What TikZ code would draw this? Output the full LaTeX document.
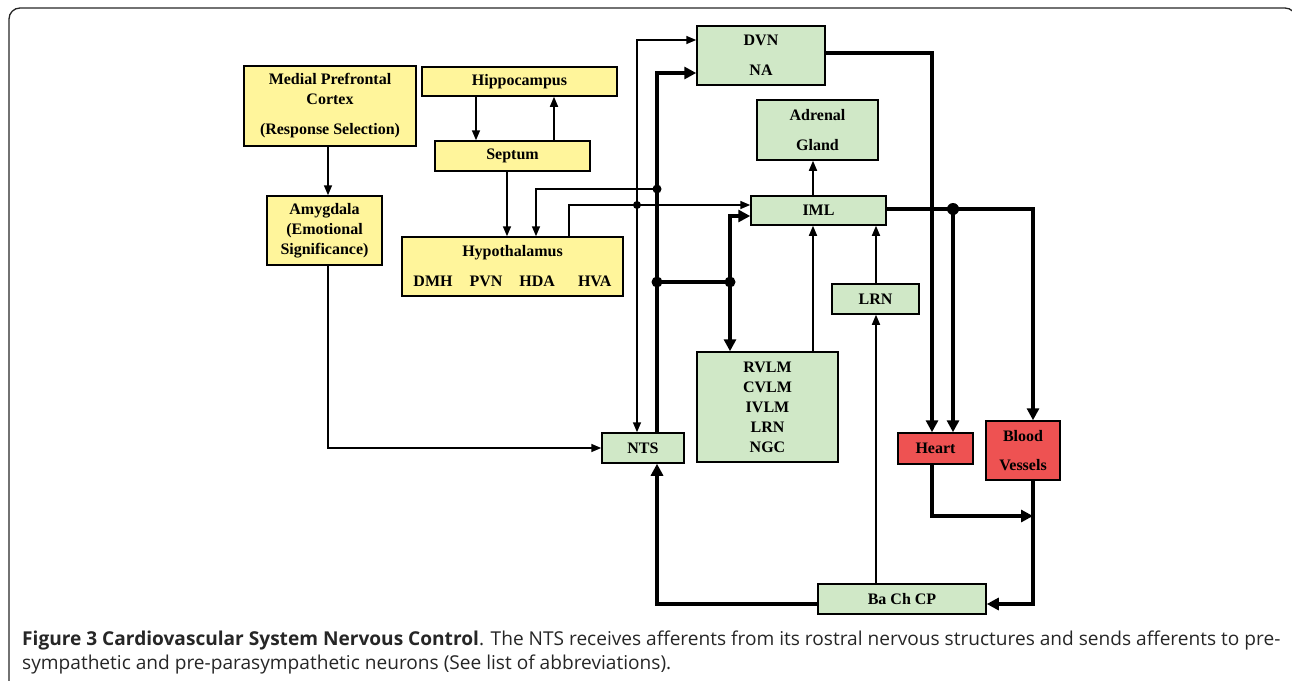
\documentclass[tikz,border=0pt]{standalone}
\usepackage{fontspec}
\setmainfont{Liberation Serif}
\newfontfamily\capfont{Open Sans}
\usetikzlibrary{arrows.meta}
\definecolor{ylw}{RGB}{255,245,155}
\definecolor{grn}{RGB}{208,232,199}
\definecolor{rd}{RGB}{238,82,82}
\begin{document}
\begin{tikzpicture}[x=1pt,y=-1pt,
  bx/.style={draw, line width=1.5pt, inner sep=0pt, align=center,
     font=\bfseries\fontsize{16}{20}\selectfont},
  ybx/.style={bx, fill=ylw},
  gbx/.style={bx, fill=grn},
  rbx/.style={bx, fill=rd},
  thn/.style={line width=1.6pt, -{Triangle[length=10pt,width=8pt]}},
  thk/.style={line width=4.5pt, -{Triangle[length=12pt,width=12pt]}},
  thkline/.style={line width=4.5pt},
  dot/.style={fill=black},
  capt/.style={anchor=base west, inner sep=0pt, text=black!85, font=\capfont\fontsize{19.1}{22}\selectfont}
]
\path[use as bounding box] (0,0) rectangle (1292,680);
\clip (0,0) rectangle (1292,680);
\draw[line width=1.3pt, black!85, rounded corners=11pt] (9,8) rectangle (1296,720);

% boxes
\node[ybx, minimum width=172pt, minimum height=80pt] (mpc) at (330,106)
  {Medial Prefrontal\\Cortex\\[10pt](Response Selection)};
\node[ybx, minimum width=195pt, minimum height=29pt] (hip) at (519.5,81.5) {Hippocampus};
\node[ybx, minimum width=155pt, minimum height=30pt] (sep) at (512.5,156) {Septum};
\node[ybx, minimum width=115pt, minimum height=69pt] (amy) at (324.5,230.5)
  {Amygdala\\(Emotional\\Significance)};
\node[ybx, minimum width=221pt, minimum height=59pt] (hyp) at (512.5,266.5)
  {Hypothalamus\\[10pt]DMH\hspace{17pt}PVN\hspace{17pt}HDA\hspace{23pt}HVA};
\node[gbx, minimum width=128pt, minimum height=59pt] (dvn) at (761,55.5) {DVN\\[10pt]NA};
\node[gbx, minimum width=121pt, minimum height=60pt] (adr) at (817.5,130) {Adrenal\\[10pt]Gland};
\node[gbx, minimum width=135pt, minimum height=29pt] (iml) at (818.5,210.5) {IML};
\node[gbx, minimum width=87pt, minimum height=30pt] (lrn) at (875.5,299) {LRN};
\node[gbx, minimum width=141pt, minimum height=110pt] (rvlm) at (767.5,407)
  {RVLM\\CVLM\\IVLM\\LRN\\NGC};
\node[gbx, minimum width=82pt, minimum height=30pt] (nts) at (643,448) {NTS};
\node[rbx, minimum width=75pt, minimum height=31pt] (heart) at (935.5,448.5) {Heart};
\node[rbx, minimum width=74pt, minimum height=59pt] (bv) at (1023,450.5) {Blood\\[9pt]Vessels};
\node[gbx, minimum width=168pt, minimum height=30pt] (ba) at (902,599) {Ba Ch CP};

% helper coordinates
\coordinate (vA) at (328,0);
\coordinate (vH1) at (476,0);
\coordinate (vH2) at (554,0);
\coordinate (vS) at (507,0);
\coordinate (vN1) at (536,0);
\coordinate (vH3) at (569,0);
\coordinate (vT) at (637,0);
\coordinate (vK) at (657,0);
\coordinate (vR) at (730,0);
\coordinate (vI) at (813,0);
\coordinate (vL) at (876,0);
\coordinate (vHt) at (932,0);
\coordinate (vHt2) at (953,0);
\coordinate (vB) at (1033,0);
\coordinate (hD) at (0,40);
\coordinate (hN) at (0,73);
\coordinate (hDV) at (0,53);
\coordinate (hHI) at (0,205);
\coordinate (hIT) at (0,216);
\coordinate (hIM) at (0,209);
\coordinate (hHB) at (0,516);
\coordinate (hBa) at (0,604);
\coordinate (jA) at (637,205);
\coordinate (jB) at (657,189);
\coordinate (jC) at (657,282);
\coordinate (jD) at (730,282);
\coordinate (jE) at (953,209);

% connectors
\draw[thn] (mpc.south -| vA) -- (amy.north -| vA);
\draw[thn] (hip.south -| vH1) -- (sep.north -| vH1);
\draw[thn] (sep.north -| vH2) -- (hip.south -| vH2);
\draw[thn] (sep.south -| vS) -- (hyp.north -| vS);
\draw[thn] (amy.south -| vA) |- (nts.west);
\draw[thn] (hyp.north -| vH3) |- (iml.west |- hHI);
\draw[thn] (jA) |- (dvn.west |- hD);
\draw[thn] (jA) -- (nts.north -| vT);
\draw[thk] (nts.north -| vK) |- (dvn.west |- hN);
\draw[thn] (jB) -| (hyp.north -| vN1);
\draw[thkline] (jC) -- (jD);
\draw[thk] (jD) |- (iml.west |- hIT);
\draw[thk] (jD) -- (rvlm.north -| vR);
\draw[thn] (rvlm.north -| vI) -- (iml.south -| vI);
\draw[thn] (lrn.north -| vL) -- (iml.south -| vL);
\draw[thn] (iml.north -| vI) -- (adr.south -| vI);
\draw[thn] (ba.north -| vL) -- (lrn.south -| vL);
\draw[thk] (ba.west |- hBa) -| (nts.south -| vK);
\draw[thk] (dvn.east |- hDV) -| (heart.north -| vHt);
\draw[thk] (iml.east |- hIM) -| (bv.north -| vB);
\draw[thk] (jE) -- (heart.north -| vHt2);
\draw[thk] (heart.south -| vHt) |- (hHB -| vB);
\draw[thk] (bv.south -| vB) |- (ba.east |- hBa);

% junction dots
\fill[dot] (jA) circle (4pt);
\fill[dot] (jB) circle (4.5pt);
\fill[dot] (jC) circle (5.5pt);
\fill[dot] (jD) circle (5.5pt);
\fill[dot] (jE) circle (6pt);

% caption
\node[capt] (cap1) at (22,645.5) {\textbf{Figure 3 Cardiovascular System Nervous Control}. The NTS receives afferents from its rostral nervous structures and sends afferents to pre-};
\node[capt] (cap2) at (22,669.5) {sympathetic and pre-parasympathetic neurons (See list of abbreviations).};
\end{tikzpicture}
\end{document}
